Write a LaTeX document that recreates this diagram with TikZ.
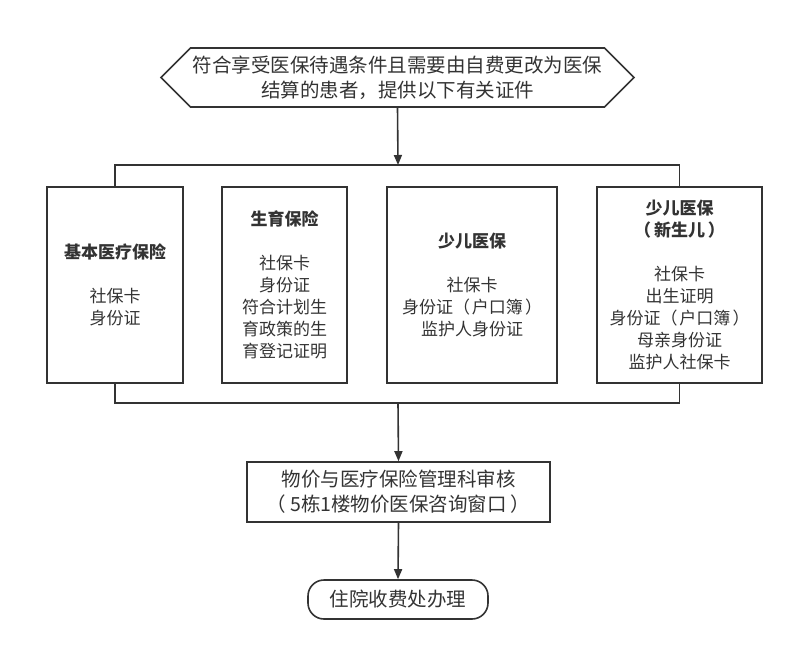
\documentclass[tikz,border=0pt]{standalone}
\usepackage{fontspec}
\setmainfont{Noto Sans CJK SC}
\usetikzlibrary{arrows.meta, shapes.symbols}

\definecolor{ink}{HTML}{333333}

\begin{document}
\begin{tikzpicture}[
  x=1pt, y=-1pt,
  every node/.style = {draw=ink, text=ink, line width=1.6pt, align=center},
  doc/.style = {minimum height=196pt, inner sep=2pt,
                font=\fontsize{17}{22}\selectfont},
  arr/.style = {-{Triangle[length=10pt, width=8pt]}, line width=1.6pt, draw=ink}
]
\useasboundingbox (0,0) rectangle (792,649);

\node (start) [signal, signal to=west and east, signal pointer angle=90,
               minimum width=473pt, minimum height=59pt, inner sep=0pt,
               font=\fontsize{19.5}{25}\selectfont]
  at (397.5,77.5) {符合享受医保待遇条件且需要由自费更改为医保\\结算的患者，提供以下有关证件};

\node (basic) [doc, minimum width=136pt] at (115,285)
  {\textbf{基本医疗保险}\\[22pt]社保卡\\身份证};
\node (birth) [doc, minimum width=125pt] at (284.5,285)
  {\textbf{生育保险}\\[22pt]社保卡\\身份证\\符合计划生\\育政策的生\\育登记证明};
\node (child) [doc, minimum width=170pt] at (472,285)
  {\textbf{少儿医保}\\[22pt]社保卡\\身份证（\kern2pt 户口簿\kern2pt）\\监护人身份证};
\node (baby)  [doc, minimum width=165pt] at (679.5,285)
  {\textbf{少儿医保}\\\textbf{（\kern3pt 新生儿\kern3pt）}\\[22pt]社保卡\\出生证明\\身份证（\kern2pt 户口簿\kern2pt）\\母亲身份证\\监护人社保卡};

\node (check) [minimum width=303pt, minimum height=60pt, inner sep=0pt,
               font=\fontsize{19.5}{25}\selectfont] at (398.5,492)
  {物价与医疗保险管理科审核\\（\kern4pt 5栋1楼物价医保咨询窗口\kern4pt）};
\node (pay) [rounded corners=16pt, minimum width=180pt, minimum height=39pt,
             font=\fontsize{19.5}{25}\selectfont] at (398,599.5) {住院收费处办理};

\coordinate (top) at (398,165);
\coordinate (bottom) at (398,403);

\draw[arr] (start.south) -- (top);
\draw[ink, line width=1.6pt] (basic.north) |- (top) -| (baby.north);
\draw[ink, line width=1.6pt] (basic.south) |- (bottom) -| (baby.south);
\draw[arr] (bottom) -- (check.north);
\draw[arr] (check.south) -- (pay.north);

\end{tikzpicture}
\end{document}
